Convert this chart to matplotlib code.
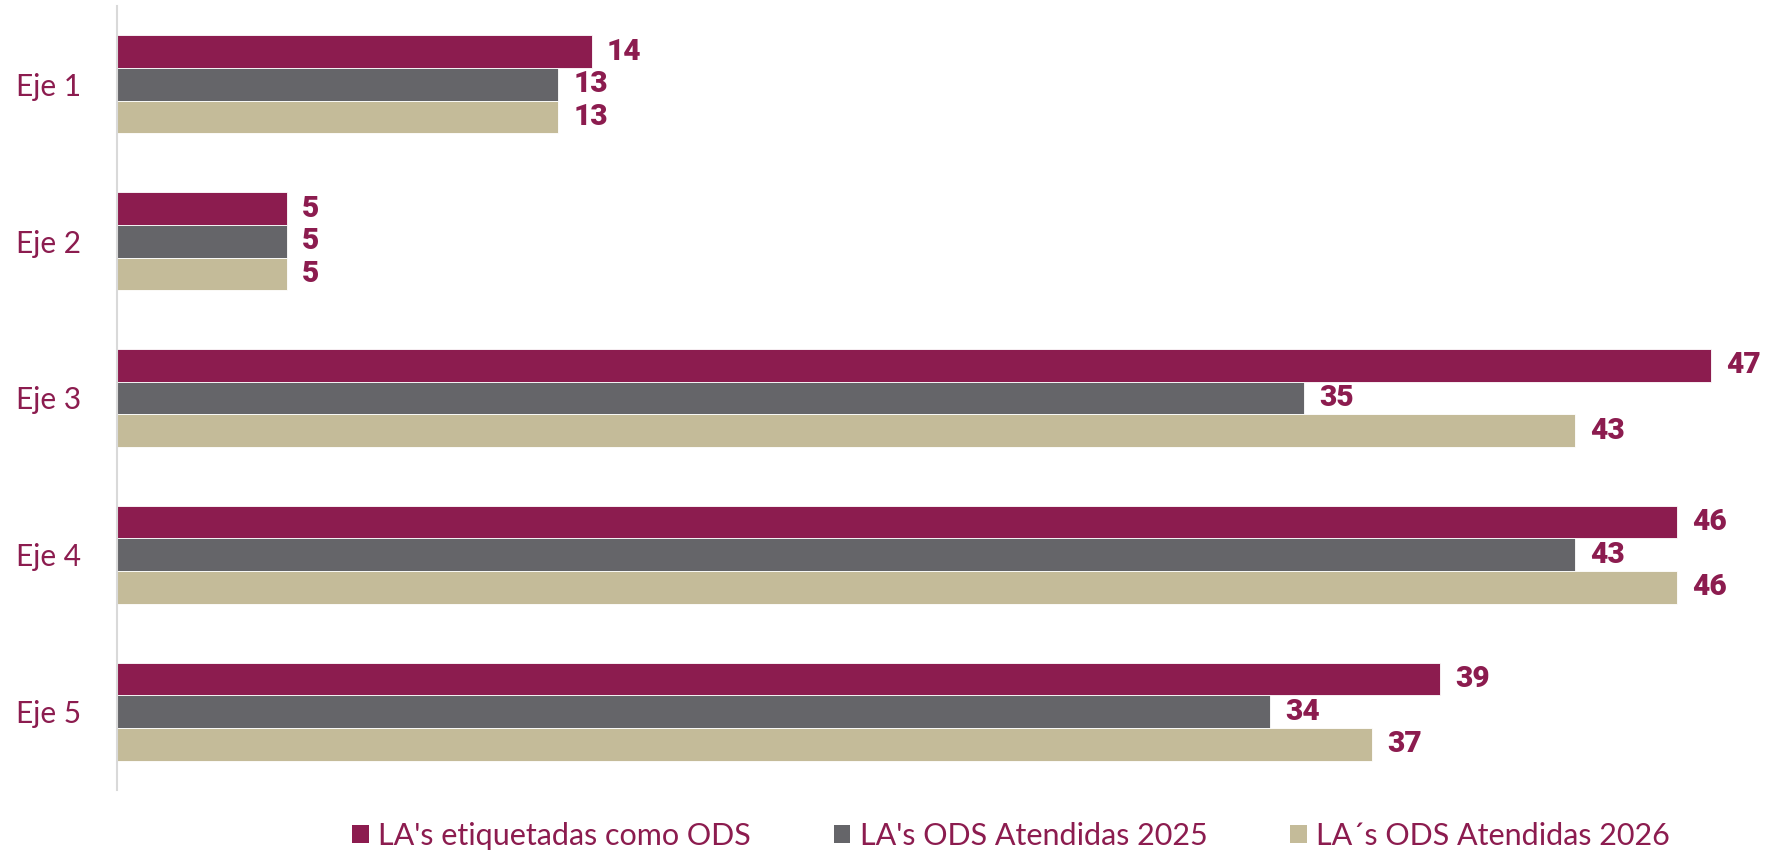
import numpy as np
import matplotlib.pyplot as plt
from matplotlib.patches import Patch

# Data
categorias = ['Eje 1', 'Eje 2', 'Eje 3', 'Eje 4', 'Eje 5']
etiquetadas = [14, 5, 47, 46, 39]
atendidas_2025 = [13, 5, 35, 43, 34]
atendidas_2026 = [13, 5, 43, 46, 37]
series_names = ["LA's etiquetadas como ODS", "LA's ODS Atendidas 2025", "LA´s ODS Atendidas 2026"]

purple = '#8C1C4F'
gray = '#656569'
beige = '#C4BB99'
colors = [purple, gray, beige]

fig = plt.figure(figsize=(17.82, 8.52), dpi=100)
ax = fig.add_axes([117 / 1782, 1 - 790 / 852, 1 - 117 / 1782, (790 - 6) / 852])

y = np.arange(len(categorias))
h = 0.208
series = [etiquetadas, atendidas_2025, atendidas_2026]
for i, vals in enumerate(series):
    pos = y + (i - 1) * h
    bars = ax.barh(pos, vals, height=h, color=colors[i], edgecolor='white', linewidth=0.6)
    for b, v in zip(bars, vals):
        ax.annotate(str(v), (b.get_width(), b.get_y() + b.get_height() / 2),
                    xytext=(11, 0), textcoords='offset points', va='center', ha='left',
                    fontsize=21.5, fontweight='heavy', color=purple, family='Roboto')

ax.set_xlim(0, 49.1)
ax.set_ylim(4.5, -0.5)
ax.set_yticks(y)
ax.set_yticklabels(categorias, fontsize=21.5, color=purple, family='Lato')
ax.tick_params(axis='y', length=0, pad=26)
ax.set_xticks([])
for s in ['top', 'right', 'bottom']:
    ax.spines[s].set_visible(False)
ax.spines['left'].set_color('#D9D9D9')
ax.spines['left'].set_linewidth(1.5)

handles = [Patch(facecolor=c) for c in colors]
leg = fig.legend(handles, series_names, loc='center', bbox_to_anchor=(1011 / 1782, 1 - 836 / 852),
                 ncol=3, frameon=False, handlelength=0.55, handleheight=0.55,
                 handletextpad=0.3, columnspacing=2.7, prop={'family': 'Lato', 'size': 22})
for t in leg.get_texts():
    t.set_color(purple)

fig.savefig('out.png', dpi=100, facecolor='white')
